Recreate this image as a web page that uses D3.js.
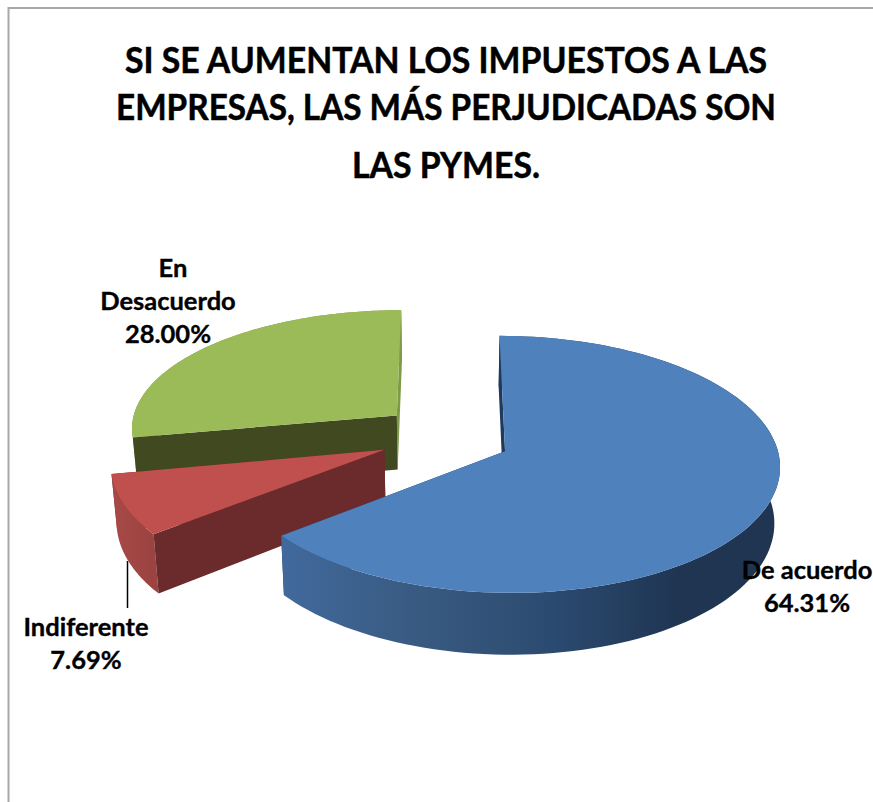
<!DOCTYPE html>
<html><head><meta charset="utf-8">
<script src="https://cdn.jsdelivr.net/npm/d3@7/dist/d3.min.js"></script>
<style>html,body{margin:0;padding:0;background:#fff}svg{display:block}
text{font-family:Lato,"Open Sans",sans-serif;font-weight:700;fill:#000;stroke:#000;text-anchor:middle}</style>
</head><body><svg id="c" width="873" height="802"></svg>
<script>
const categories = ["De acuerdo", "Indiferente", "En Desacuerdo"];
const values = [64.31, 7.69, 28.00];
const valueLabels = ["64.31%", "7.69%", "28.00%"];
const titleLines = ["SI SE AUMENTAN LOS IMPUESTOS A LAS", "EMPRESAS, LAS MÁS PERJUDICADAS SON", "LAS PYMES."];
const explosions = [0.2444, 0.2444, 0.25];
const topColors = ["#4f81bd", "#c0504d", "#9bbb59"];
const cutColors = ["#1f3a5c", "#6b2a2c", "#40491f"];
const endColors = ["#1f3a5c", "#6b2a2c", "#7f9a47"];
// slice-specific fit of the 3D view
const sliceScale = [[1, 1], [0.995, 1], [0.99, 0.955]];
const sliceShift = [[0, 0], [0, -1], [3, -3]];

const W = 873, H = 802;
const svg = d3.select("#c");
const defs = svg.append("defs");

// perspective pie projection
const vx = 445, vy = 438, rx = 270, ry = 124.5, persp = 0.1, depth = 55, converge = 0.983;
const sx = d3.scaleLinear().domain([0, 1]).range([vx, vx + rx]);
const sy = d3.scaleLinear().domain([0, 1]).range([vy, vy + ry]);
const project = (X, T, low, shift) => {
  const w = 1 / (1 - persp * T);
  const px = sx(X * w), py = sy(T * w);
  const p = low ? [vx + (px - vx) * converge, py + depth * w] : [px, py];
  return [p[0] + shift[0], p[1] + shift[1]];
};
const pie = d3.pie().sort(null).value(d => d).startAngle(0).endAngle(2 * Math.PI);
const arcs = pie(values).map((d, i) => {
  const mid = (d.startAngle + d.endAngle) / 2, e = explosions[i];
  return {...d, i, ox: e * Math.sin(mid), ot: -e * Math.cos(mid), f: sliceScale[i], shift: sliceShift[i]};
});
const rim = (s, a, low) => project(s.ox + s.f[0] * Math.sin(a), s.ot - s.f[1] * Math.cos(a), low, s.shift);
const apex = (s, low) => project(s.ox, s.ot, low, s.shift);
const rimPts = (s, low) => d3.range(0, 121).map(k => rim(s, s.startAngle + (s.endAngle - s.startAngle) * k / 120, low));
const line = d3.line();

// side wall gradients
const g = defs.append("linearGradient").attr("id", "wall0").attr("gradientUnits", "userSpaceOnUse")
  .attr("x1", rim(arcs[0], arcs[0].endAngle, false)[0]).attr("x2", rim(arcs[0], Math.PI / 2, false)[0])
  .attr("y1", 0).attr("y2", 0);
[[0, "#41699c"], [0.3, "#38597f"], [0.55, "#2b4a70"], [0.8, "#1f3552"], [1, "#1f3552"]].forEach(s =>
  g.append("stop").attr("offset", s[0]).attr("stop-color", s[1]));
const g1 = defs.append("linearGradient").attr("id", "wall1").attr("gradientUnits", "userSpaceOnUse")
  .attr("x1", rim(arcs[1], arcs[1].endAngle, false)[0]).attr("x2", rim(arcs[1], arcs[1].startAngle, false)[0])
  .attr("y1", 0).attr("y2", 0);
[[0, "#a84a47"], [1, "#9a4341"]].forEach(s => g1.append("stop").attr("offset", s[0]).attr("stop-color", s[1]));
const wallFill = ["url(#wall0)", "url(#wall1)", "#7f9a47"];

// painter's order: back slice first
[arcs[2], arcs[1], arcs[0]].forEach(s => {
  const G = svg.append("g").attr("class", "slice");
  G.append("path").attr("fill", endColors[s.i]).attr("d", line([
    apex(s, false), rim(s, s.endAngle, false), rim(s, s.endAngle, true), apex(s, true)]) + "Z");
  const up = rimPts(s, false), lo = rimPts(s, true).reverse();
  G.append("path").attr("fill", wallFill[s.i]).attr("d", line(up.concat(lo)) + "Z");
  G.append("path").attr("fill", cutColors[s.i]).attr("d", line([
    apex(s, false), rim(s, s.startAngle, false), rim(s, s.startAngle, true), apex(s, true)]) + "Z");
  G.append("path").attr("fill", topColors[s.i]).attr("d", line([apex(s, false)].concat(up)) + "Z");
});

// title
const titleY = [73, 120, 178];
const titleWidth = [642, 660, 188];
titleLines.forEach((t, i) => {
  svg.append("text").attr("x", 446).attr("y", titleY[i]).attr("font-size", 36)
    .attr("stroke-width", 0.5).attr("textLength", titleWidth[i]).attr("lengthAdjust", "spacingAndGlyphs").text(t);
});

// data labels
const labelRows = [
  {x: [807, 807], ys: [579, 612], rows: [categories[0], valueLabels[0]]},
  {x: [86, 86], ys: [636, 669], rows: [categories[1], valueLabels[1]]},
  {x: [173, 168, 168], ys: [277, 310, 343], rows: ["En", "Desacuerdo", valueLabels[2]]}
];
labelRows.forEach(l => l.rows.forEach((r, j) =>
  svg.append("text").attr("x", l.x[j]).attr("y", l.ys[j]).attr("font-size", 25.5).attr("stroke-width", 0.35).text(r)));

// leader line and frame
svg.append("line").attr("x1", 127.5).attr("x2", 127.5).attr("y1", 561).attr("y2", 608).attr("stroke", "#000").attr("stroke-width", 1.5);
svg.append("path").attr("fill", "none").attr("stroke", "#a8a8a8").attr("stroke-width", 2)
  .attr("d", line([[8.5, H], [8.5, 8], [W, 8]]));
</script></body></html>
